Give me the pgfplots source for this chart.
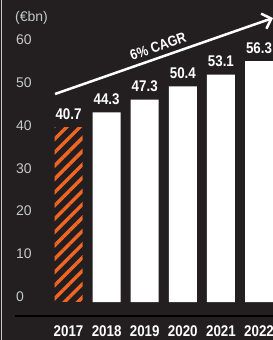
\documentclass[border=0pt]{standalone}
\usepackage{fontspec}
\setmainfont{Liberation Sans}
\newfontfamily\condb{Liberation Sans}[FakeStretch=0.86]
\usepackage{pgfplots}
\pgfplotsset{compat=1.18}
\usetikzlibrary{patterns.meta,arrows.meta}
\definecolor{bg}{RGB}{35,31,32}
\definecolor{hatch}{RGB}{242,101,34}
\definecolor{ticklab}{RGB}{200,200,200}
\definecolor{baseline}{RGB}{170,170,170}
\begin{document}
\begin{tikzpicture}
\useasboundingbox (0,0) rectangle (273bp,340bp);
\clip (0,0) rectangle (273bp,340bp);
\fill[bg] (0,0) rectangle (273bp,340bp);
\draw[ticklab, line width=1bp] (1.5bp,0) -- (1.5bp,340bp);
\draw[baseline, line width=1.5bp] (15bp,24bp) -- (273bp,24bp);
\node[anchor=base west, inner sep=0, text=ticklab, font=\fontsize{14bp}{16bp}\selectfont] at (15bp,318bp) {(€bn)};
\begin{axis}[
  at={(0bp,38bp)}, anchor=south west,
  scale only axis, width=273bp, height=299.6bp,
  xmin=-1.798, xmax=5.367, ymin=0, ymax=70,
  axis line style={draw=none}, tick style={draw=none},
  ytick={0,10,20,30,40,50,60},
  xtick={0,1,2,3,4,5},
  xticklabels={2017,2018,2019,2020,2021,2022},
  /pgf/number format/assume math mode=true,
  yticklabel style={anchor=base west, inner sep=0, xshift=16bp, yshift=0.5bp, text=ticklab, font=\fontsize{14bp}{16bp}\selectfont},
  xticklabel style={anchor=base, inner sep=0, yshift=-30bp, text=white, font=\condb\bfseries\fontsize{15.5bp}{17bp}\selectfont},
  ybar, bar width=28bp, bar shift=0pt,
  nodes near coords,
  nodes near coords style={anchor=base, inner sep=0, yshift=8bp, text=white, font=\condb\bfseries\fontsize{15.5bp}{17bp}\selectfont, /pgf/number format/.cd, fixed, fixed zerofill, precision=1, assume math mode=true},
  clip=false,
]
\addplot[draw=none, pattern={Lines[angle=45,distance=9.4bp,line width=3.4bp]}, pattern color=hatch] coordinates {(0,40.7)};
\addplot[draw=none, fill=white] coordinates {(1,44.3) (2,47.3) (3,50.4) (4,53.1) (5,56.3)};
\end{axis}
\draw[white, line width=2.5bp, -{Straight Barb[length=8bp,width=16bp,line width=2.5bp]}] (55bp,246bp) -- node[sloped, above, inner sep=0, yshift=5bp, text=white, font=\condb\bfseries\fontsize{14.5bp}{16bp}\selectfont, pos=0.49] {6\% CAGR} (273bp,322bp);
\end{tikzpicture}
\end{document}
